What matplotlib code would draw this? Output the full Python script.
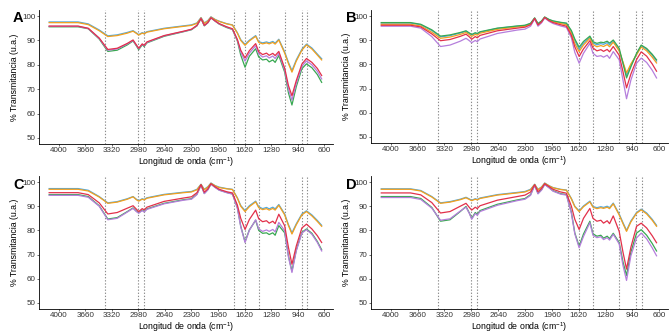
import matplotlib
matplotlib.use("Agg")
import matplotlib.pyplot as plt

plt.rcParams['font.family'] = ['Liberation Sans', 'DejaVu Sans']
plt.rcParams['mathtext.fontset'] = 'custom'
plt.rcParams['mathtext.rm'] = 'Liberation Sans'
plt.rcParams['mathtext.it'] = 'Liberation Sans:italic'

# wavenumbers (cm-1) where the spectra were read
wn = [4120, 3750, 3620, 3480, 3370, 3250, 3120, 3047, 3005, 2975, 2930, 2905, 2870,
      2650, 2400, 2300, 2230, 2178, 2136, 2090, 2051, 1996, 1945, 1850, 1776, 1713,
      1670, 1615, 1560, 1479, 1440, 1390, 1340, 1306, 1260, 1230, 1183, 1108, 1060,
      1015, 960, 888, 829, 760, 690, 635]

# marked bands
bands = [3400, 2980, 2905, 1755, 1615, 1442, 1108, 890, 822]

xticks = [4000, 3660, 3320, 2980, 2640, 2300, 1960, 1620, 1280, 940, 600]
yticks = [50, 60, 70, 80, 90, 100]

# panel A
A_blue = [97.6, 97.6, 96.8, 94.3, 91.9, 92.3, 93.3, 94.0, 93.1, 92.4, 93.2, 92.9, 93.6, 95.0, 96.0, 96.4, 97.2, 99.4, 97.2, 98.2, 99.7, 98.6, 97.9, 96.9, 96.4, 93.2, 90.3, 88.4, 90.1, 92.0, 89.5, 89.0, 89.4, 89.0, 89.6, 88.9, 90.5, 85.3, 81.0, 77.6, 82.0, 86.4, 88.5, 86.9, 84.4, 82.5]
A_orange = [97.3, 97.3, 96.5, 94.0, 91.6, 92.0, 93.0, 93.8, 92.9, 92.2, 93.0, 92.7, 93.4, 94.8, 95.8, 96.2, 97.0, 99.3, 97.0, 98.0, 99.6, 98.5, 97.8, 96.8, 96.3, 93.0, 90.0, 88.0, 89.8, 91.7, 89.2, 88.6, 89.0, 88.6, 89.2, 88.5, 90.2, 84.8, 80.5, 77.0, 81.5, 86.0, 88.2, 86.5, 84.0, 82.0]
A_green = [95.6, 95.6, 94.8, 90.6, 85.5, 86.0, 88.2, 89.8, 87.8, 86.2, 88.2, 87.5, 89.0, 91.7, 93.6, 94.4, 96.0, 99.0, 96.0, 97.3, 99.3, 97.9, 96.7, 95.3, 94.5, 89.8, 84.0, 79.0, 83.5, 86.6, 83.2, 82.0, 82.3, 81.2, 82.0, 81.0, 83.8, 77.0, 68.5, 63.5, 71.0, 78.4, 80.4, 78.8, 76.0, 72.8]
A_purple = [95.8, 95.8, 94.9, 90.8, 86.0, 86.5, 88.6, 90.0, 88.0, 86.6, 88.4, 87.8, 89.2, 91.9, 93.7, 94.5, 96.1, 99.0, 96.1, 97.3, 99.3, 97.9, 96.8, 95.5, 94.6, 90.1, 85.2, 81.5, 84.8, 87.8, 84.5, 83.2, 83.7, 82.8, 83.6, 82.6, 84.7, 77.8, 70.0, 65.5, 72.3, 79.4, 81.6, 80.0, 77.3, 74.2]
A_red = [95.9, 95.9, 95.0, 91.0, 86.3, 86.8, 88.8, 90.2, 88.2, 86.8, 88.6, 88.0, 89.4, 92.0, 93.8, 94.6, 96.2, 99.0, 96.2, 97.4, 99.3, 98.0, 96.9, 95.6, 94.8, 90.4, 86.0, 82.8, 85.8, 88.7, 85.4, 84.2, 84.8, 83.9, 84.7, 83.8, 85.5, 78.6, 71.5, 67.3, 73.5, 80.3, 82.6, 81.0, 78.5, 75.6]

# panel B
B_blue = [97.1, 97.1, 96.4, 94.0, 91.4, 91.9, 93.0, 93.7, 92.8, 92.1, 92.9, 92.6, 93.3, 94.9, 95.8, 96.1, 96.9, 99.2, 96.8, 97.9, 99.5, 98.5, 97.9, 97.3, 96.9, 93.6, 89.9, 86.2, 88.8, 91.3, 88.9, 88.1, 88.6, 88.3, 89.0, 88.1, 89.6, 85.8, 80.5, 75.5, 79.5, 84.2, 87.7, 86.2, 83.8, 81.4]
B_orange = [96.6, 96.6, 95.9, 93.3, 90.8, 91.3, 92.4, 93.2, 92.3, 91.6, 92.4, 92.1, 92.9, 94.5, 95.5, 95.8, 96.7, 99.1, 96.6, 97.8, 99.5, 98.3, 97.6, 96.9, 96.4, 92.8, 88.6, 85.3, 88.0, 90.8, 88.2, 87.3, 87.8, 87.4, 88.2, 87.3, 89.2, 85.6, 81.0, 76.5, 80.2, 84.0, 87.2, 85.6, 83.0, 80.6]
B_green = [97.3, 97.3, 96.6, 94.3, 91.7, 92.2, 93.2, 93.9, 93.0, 92.4, 93.1, 92.8, 93.5, 95.0, 95.9, 96.2, 97.0, 99.2, 96.9, 98.0, 99.6, 98.6, 98.0, 97.4, 97.1, 94.0, 90.5, 87.1, 89.5, 91.7, 89.4, 88.7, 89.2, 89.0, 89.6, 88.8, 90.1, 86.7, 80.5, 74.4, 79.0, 84.6, 88.0, 86.6, 84.2, 81.9]
B_purple = [95.8, 95.8, 95.0, 91.5, 87.4, 88.0, 89.6, 90.8, 89.8, 89.0, 89.9, 89.4, 90.5, 92.8, 94.2, 94.6, 95.8, 98.8, 95.8, 97.2, 99.2, 97.8, 96.9, 95.9, 95.3, 91.0, 85.0, 80.5, 84.6, 88.7, 84.6, 83.3, 83.6, 83.0, 83.8, 82.5, 85.3, 81.9, 73.5, 65.8, 73.5, 80.5, 82.6, 80.8, 77.6, 74.4]
B_red = [96.2, 96.2, 95.5, 92.6, 89.8, 90.3, 91.6, 92.5, 91.4, 90.4, 91.5, 91.0, 92.0, 93.9, 95.0, 95.4, 96.4, 99.0, 96.3, 97.6, 99.4, 98.1, 97.3, 96.4, 95.8, 92.0, 87.3, 83.3, 86.4, 89.8, 86.8, 85.6, 86.1, 85.4, 86.2, 85.2, 87.4, 83.8, 77.0, 70.3, 76.0, 82.0, 85.2, 83.4, 80.2, 77.2]

# panel C
C_blue = [97.3, 97.3, 96.6, 94.0, 91.4, 91.9, 93.1, 94.0, 92.9, 92.3, 93.1, 92.8, 93.5, 94.9, 95.8, 96.1, 97.0, 99.1, 97.0, 98.1, 99.6, 98.5, 97.9, 97.3, 97.0, 93.5, 90.3, 88.2, 90.2, 92.1, 89.8, 89.0, 89.5, 88.9, 89.6, 88.9, 90.7, 86.8, 82.4, 79.0, 82.7, 86.8, 88.1, 86.4, 84.1, 82.1]
C_orange = [97.0, 97.0, 96.3, 93.8, 91.2, 91.7, 92.9, 93.9, 92.7, 92.1, 92.9, 92.6, 93.3, 94.7, 95.6, 95.9, 96.8, 99.0, 96.8, 97.9, 99.5, 98.4, 97.7, 97.2, 96.9, 93.3, 90.0, 87.8, 89.8, 91.8, 89.4, 88.6, 89.0, 88.4, 89.1, 88.4, 90.4, 86.4, 82.0, 78.5, 82.3, 86.4, 87.8, 86.0, 83.7, 81.7]
C_green = [94.8, 94.8, 94.0, 90.2, 84.7, 85.3, 87.8, 89.3, 88.0, 87.3, 88.4, 87.8, 88.9, 91.2, 92.7, 93.1, 95.0, 98.8, 95.3, 96.9, 99.2, 97.8, 96.7, 95.7, 95.1, 89.4, 81.8, 75.3, 80.2, 84.2, 80.0, 78.8, 79.0, 78.3, 79.0, 78.0, 82.0, 79.0, 69.5, 63.2, 71.8, 79.2, 80.6, 78.8, 75.4, 72.0]
C_purple = [94.5, 94.5, 93.7, 90.0, 84.4, 85.0, 87.6, 89.1, 87.8, 87.1, 88.2, 87.6, 88.7, 91.0, 92.5, 92.9, 94.8, 98.7, 95.2, 96.8, 99.1, 97.7, 96.6, 95.6, 95.0, 89.2, 81.5, 75.0, 80.0, 84.4, 80.6, 79.6, 80.2, 79.6, 80.4, 79.4, 83.3, 79.9, 69.0, 62.6, 71.5, 78.9, 80.3, 78.4, 75.0, 71.5]
C_red = [95.6, 95.6, 94.8, 91.4, 86.8, 87.4, 89.2, 90.2, 88.8, 87.8, 89.0, 88.5, 89.6, 92.0, 93.4, 93.9, 95.6, 98.9, 95.8, 97.2, 99.3, 98.0, 97.0, 96.0, 95.5, 90.5, 85.0, 80.4, 84.5, 88.4, 84.8, 83.6, 84.0, 83.0, 83.8, 82.8, 86.7, 81.9, 73.0, 66.0, 73.5, 81.0, 82.6, 80.6, 77.8, 75.0]

# panel D
D_blue = [97.2, 97.2, 96.5, 94.0, 91.4, 91.9, 92.9, 93.7, 93.0, 92.5, 93.1, 92.8, 93.4, 94.8, 95.7, 96.1, 97.0, 99.1, 97.0, 98.0, 99.6, 98.5, 97.7, 97.0, 96.7, 93.2, 90.0, 88.1, 90.1, 92.1, 89.9, 89.4, 89.8, 89.5, 90.0, 89.4, 91.3, 86.8, 83.2, 80.0, 83.9, 87.4, 88.8, 87.2, 84.6, 82.1]
D_orange = [97.0, 97.0, 96.3, 93.8, 91.2, 91.7, 92.7, 93.5, 92.8, 92.3, 92.9, 92.6, 93.2, 94.6, 95.5, 95.9, 96.8, 99.0, 96.8, 97.9, 99.5, 98.4, 97.6, 96.9, 96.6, 93.0, 89.8, 87.8, 89.8, 91.8, 89.6, 89.0, 89.4, 89.1, 89.6, 89.0, 91.0, 86.4, 82.8, 79.6, 83.5, 87.1, 88.5, 86.8, 84.2, 81.7]
D_green = [94.0, 94.0, 93.2, 89.5, 83.8, 84.4, 87.8, 89.9, 87.2, 85.0, 87.4, 86.6, 88.2, 90.8, 92.6, 93.2, 94.8, 98.7, 95.3, 96.9, 99.1, 97.7, 96.4, 95.2, 94.8, 87.5, 79.0, 73.5, 78.5, 83.8, 78.6, 77.6, 78.0, 76.8, 77.6, 76.6, 78.8, 75.0, 67.0, 61.4, 71.0, 78.9, 80.3, 78.0, 74.6, 71.5]
D_purple = [93.6, 93.6, 92.8, 89.2, 84.2, 84.8, 88.0, 89.6, 87.0, 84.6, 87.0, 86.2, 87.8, 90.4, 92.3, 92.9, 94.5, 98.6, 95.1, 96.7, 99.0, 97.6, 96.2, 95.0, 94.6, 87.0, 78.6, 72.8, 77.5, 83.2, 78.0, 77.0, 77.4, 76.2, 77.0, 76.0, 78.4, 74.4, 65.5, 59.3, 69.5, 76.9, 78.9, 76.5, 72.8, 69.5]
D_red = [95.5, 95.5, 94.7, 91.5, 87.2, 87.8, 90.0, 91.2, 89.5, 88.4, 89.6, 89.0, 90.2, 92.5, 94.0, 94.6, 95.9, 98.9, 96.0, 97.4, 99.3, 98.1, 97.0, 95.9, 95.4, 90.0, 84.6, 80.4, 85.0, 89.1, 85.0, 83.8, 84.2, 83.0, 84.0, 82.8, 86.0, 79.6, 71.0, 64.0, 73.0, 81.7, 83.0, 81.0, 77.8, 74.9]

colors = ['#4FA8DE', '#F2A01E', '#38A851', '#B57EDC', '#E2304A']
panels = [
    ('A', [A_blue, A_orange, A_green, A_purple, A_red]),
    ('B', [B_blue, B_orange, B_green, B_purple, B_red]),
    ('C', [C_blue, C_orange, C_green, C_purple, C_red]),
    ('D', [D_blue, D_orange, D_green, D_purple, D_red]),
]

W, H = 672, 336
fig = plt.figure(figsize=(6.72, 3.36), dpi=100)
# axes boxes in pixels: left, top, right, bottom
boxes = [(39, 10, 333, 144), (371, 10, 668, 143), (39, 176, 333, 309), (371, 176, 668, 309)]
letter_pos = [(13, 22), (346, 22), (13, 189), (346, 189)]

for (letter, series), (l, t, r, b), (lx, ly) in zip(panels, boxes, letter_pos):
    ax = fig.add_axes([l / W, 1 - b / H, (r - l) / W, (b - t) / H])
    for x in bands:
        ax.axvline(x, color='#8C8C8C', linestyle=(0, (1.2, 1.6)), linewidth=0.8, zorder=1)
    for s, c in zip(series, colors):
        ax.plot(wn, s, color=c, linewidth=0.9, zorder=2)
    ax.set_xlim(4250, 490)
    ax.set_ylim(47.5, 102.5)
    ax.set_xticks(xticks)
    ax.set_yticks(yticks)
    ax.tick_params(labelsize=5.8, length=1.5, width=0.5, pad=0.8, colors='#333333')
    for side in ['top', 'right']:
        ax.spines[side].set_visible(False)
    for side in ['left', 'bottom']:
        ax.spines[side].set_linewidth(0.6)
    ax.set_xlabel('Longitud de onda (cm$^{-1}$)', fontsize=6.3, labelpad=0.5)
    ax.set_ylabel('% Transmitancia (u.a.)', fontsize=6.3, labelpad=2.5)
    fig.text(lx / W, 1 - ly / H, letter, fontsize=10.5, fontweight='bold', ha='left', va='baseline')

fig.savefig('out.png', dpi=100)
